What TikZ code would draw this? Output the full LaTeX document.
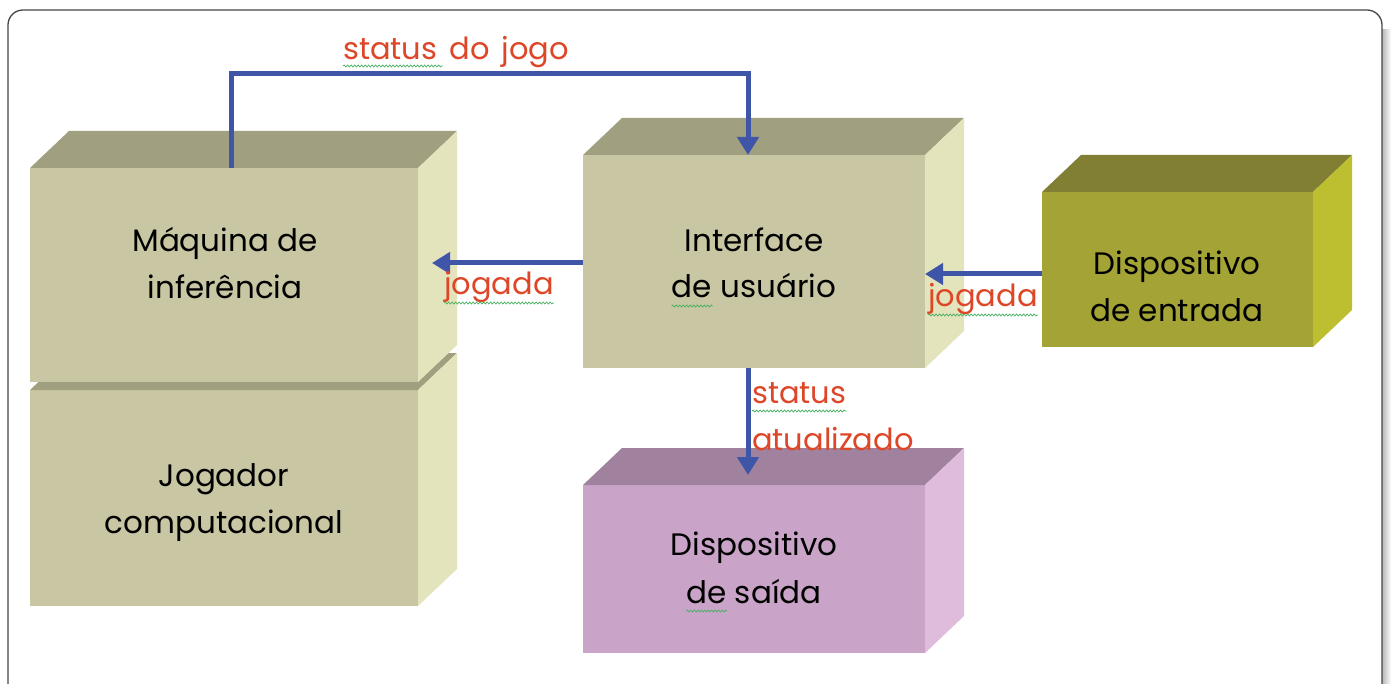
\documentclass[tikz,border=0pt]{standalone}
\usepackage{fontspec}
\setmainfont{Poppins}
\usetikzlibrary{arrows.meta,decorations.pathmorphing,calc}
\definecolor{khakiF}{RGB}{201,199,163}
\definecolor{khakiT}{RGB}{160,159,128}
\definecolor{khakiS}{RGB}{228,228,188}
\definecolor{oliveF}{RGB}{163,163,54}
\definecolor{oliveT}{RGB}{128,127,51}
\definecolor{oliveS}{RGB}{189,190,48}
\definecolor{pinkF}{RGB}{201,164,200}
\definecolor{pinkT}{RGB}{160,130,158}
\definecolor{pinkS}{RGB}{223,188,220}
\definecolor{connblue}{RGB}{63,85,168}
\definecolor{lblred}{RGB}{222,70,40}
\definecolor{squig}{RGB}{70,175,95}
\definecolor{framegray}{RGB}{70,70,70}
\tikzset{
  front/.style={rectangle,inner sep=0pt,outer sep=0pt,draw=none},
  boxtext/.style={anchor=base,inner sep=0pt,font=\fontsize{31}{36}\selectfont,text=black},
  lbltext/.style={inner sep=0pt,font=\fontsize{30.5}{36}\selectfont,text=lblred},
  conn/.style={draw=connblue,line width=5pt},
  connarrow/.style={conn,-{Triangle[width=21pt,length=18pt]}},
  spell/.style={draw=squig,line width=0.7pt,decorate,decoration={snake,segment length=3.5pt,amplitude=1pt}}
}
\newcommand{\cuboid}[3]{%
  \fill[#2] (#1.north west) -- ++(39,-37) -- ([shift={(39,-37)}]#1.north east) -- (#1.north east) -- cycle;
  \fill[#3] (#1.north east) -- ++(39,-37) -- ([shift={(39,-37)}]#1.south east) -- (#1.south east) -- cycle;
}
\begin{document}
\begin{tikzpicture}[x=1pt,y=-1pt]
\useasboundingbox (0,0) rectangle (1391,684);
% frame with shadow
\shade[left color=gray!70,right color=white] (1380,30) rectangle (1391,700);
\draw[framegray,line width=1.3pt,fill=white,rounded corners=15pt] (8,10) rectangle (1382,705);
% boxes
\node[front,fill=khakiF,minimum width=388pt,minimum height=216pt] (jog) at (224,498) {};
\cuboid{jog}{khakiT}{khakiS}
\node[front,fill=khakiF,minimum width=388pt,minimum height=214pt] (maq) at (224,275) {};
\cuboid{maq}{khakiT}{khakiS}
\node[front,fill=khakiF,minimum width=342pt,minimum height=213pt] (ui) at (754,261.5) {};
\cuboid{ui}{khakiT}{khakiS}
\node[front,fill=oliveF,minimum width=271pt,minimum height=155pt] (ent) at (1177.5,269.5) {};
\cuboid{ent}{oliveT}{oliveS}
\node[front,fill=pinkF,minimum width=342pt,minimum height=168pt] (sai) at (754,569) {};
\cuboid{sai}{pinkT}{pinkS}
% box texts
\node[boxtext] (maq1) at (225,252) {Máquina de};
\node[boxtext] (maq2) at (225,299) {inferência};
\node[boxtext] (jog1) at (224,486) {Jogador};
\node[boxtext] (jog2) at (224,533) {computacional};
\node[boxtext] (ui1) at (754,252) {Interface};
\node[boxtext] (ui2) at (754,298) {de usuário};
\node[boxtext] (ent1) at (1177,275) {Dispositivo};
\node[boxtext] (ent2) at (1177,322) {de entrada};
\node[boxtext] (sai1) at (754,555) {Dispositivo};
\node[boxtext] (sai2) at (754,603) {de saída};
% connectors
\coordinate (topy) at (0,74);
\coordinate (maqout) at ([xshift=7pt]maq.north);
\coordinate (uiin) at ([xshift=-6pt]ui.north);
\draw[connarrow] (maqout) -- (maqout |- topy) -| (uiin);
\coordinate (tipA) at ([xshift=14pt]maq.east);
\coordinate (uiw) at ([yshift=-1.5pt]ui.west);
\draw[connarrow] (uiw) -- (uiw -| tipA);
\coordinate (entw) at ([yshift=-4.5pt]ent.west);
\draw[connarrow] (entw) -- (entw -| ui.east);
\coordinate (uis) at ([xshift=-6pt]ui.south);
\coordinate (saitip) at ([xshift=-6pt,yshift=10pt]sai.north);
\draw[connarrow] (uis) -- (saitip);
% connector labels
\node[lbltext,anchor=base] (l1) at (456,60) {status\hspace{12pt}do\hspace{12pt}jogo};
\node[lbltext,anchor=base] (l2) at (499,295) {jogada};
\node[lbltext,anchor=base] (l3) at (983,307) {jogada};
\node[lbltext,anchor=base west] (l4) at (752,403) {status};
\node[lbltext,anchor=base west] (l5) at (752,450) {atualizado};
% spelling squiggles
\draw[spell] ([yshift=-6pt]l1.base west) -- ++(100,0);
\draw[spell] ([yshift=-8pt]l2.base west) -- ([yshift=-8pt]l2.base east);
\draw[spell] ([yshift=-8pt]l3.base west) -- ([yshift=-8pt]l3.base east);
\draw[spell] ([yshift=-8pt]l4.base west) -- ([yshift=-8pt]l4.base east);
\draw[spell] ([yshift=-8pt]ui2.base west) -- ++(41,0);
\draw[spell] ([yshift=-8pt]sai2.base west) -- ++(41,0);
\end{tikzpicture}
\end{document}
